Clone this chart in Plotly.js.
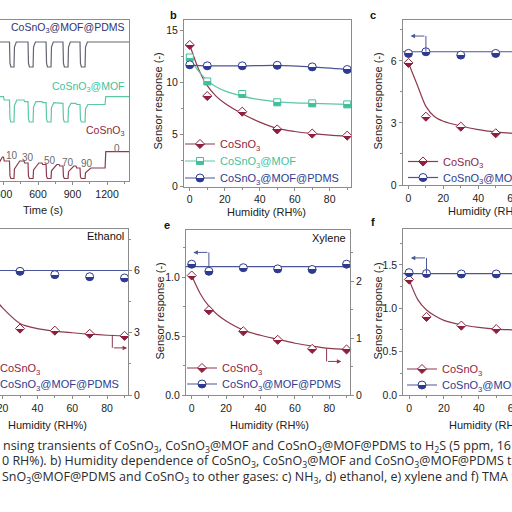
<!DOCTYPE html>
<html><head><meta charset="utf-8">
<script src="https://cdn.plot.ly/plotly-3.0.1.min.js"></script>
<style>
html,body{margin:0;padding:0;width:512px;height:512px;overflow:hidden;background:#fff}
#chart{position:absolute;left:-60px;top:0;width:660px;height:512px}
</style></head>
<body><div id="chart"></div>
<script>
// ---------- data ----------
const humidity = [0, 10, 30, 50, 70, 90];
const fitRH = [0, 5, 10, 15, 20, 30, 40, 50, 60, 70, 80, 90];
const flatRH = [-5, 95];

// b) H2S
const bCo = [13.6, 8.7, 7.2, 5.5, 5.1, 4.9];
const bCoFit = [13.6, 11.3, 9.7, 8.7, 8.0, 7.0, 6.2, 5.6, 5.3, 5.1, 4.95, 4.85];
const bMof = [12.4, 10.1, 8.9, 8.1, 8.0, 7.9];
const bMofFit = [12.3, 11.1, 10.2, 9.6, 9.2, 8.7, 8.35, 8.15, 8.05, 8.0, 7.95, 7.9];
const bPdms = [11.7, 11.6, 11.6, 11.65, 11.5, 11.25];
// c) NH3
const cCo = [5.9, 3.3, 2.82, 2.5, 2.45, 2.4];
const cCoFit = [5.9, 4.85, 3.8, 3.3, 3.08, 2.85, 2.68, 2.57, 2.5, 2.46, 2.43, 2.41];
const cPdms = [6.36, 6.44, 6.28, 6.36, 6.4, 6.4];
const cPdmsFlat = [6.44, 6.44];
// d) ethanol
const dCo = [7.5, 4.8, 3.2, 3.1, 2.95, 2.85];
const dCoFit = [7.6, 6.3, 5.3, 4.7, 4.2, 3.45, 3.2, 3.08, 3.0, 2.93, 2.88, 2.85];
const dPdms = [6.0, 6.0, 5.96, 5.8, 5.7, 5.64];
const dPdmsFlat = [6.0, 6.0];
// e) xylene
const eCo = [2.1, 1.49, 1.12, 0.97, 0.81, 0.8];
const eCoFit = [2.1, 1.78, 1.56, 1.41, 1.3, 1.14, 1.05, 0.98, 0.91, 0.86, 0.82, 0.8];
const ePdms = [1.11, 1.05, 1.08, 1.07, 1.065, 1.11];
const ePdmsFlat = [1.09, 1.09];
// f) TMA
const fCo = [1.33, 0.9, 0.8, 0.76, 0.74, 0.73];
const fCoFit = [1.33, 1.1, 0.98, 0.91, 0.86, 0.81, 0.78, 0.76, 0.75, 0.74, 0.735, 0.73];
const fPdms = [1.41, 1.40, 1.395, 1.395, 1.39, 1.39];
const fPdmsFlat = [1.40, 1.40];

// a) transients (time in s, arbitrary response units)
const aRhTimes = [0, 300, 478, 635, 783, 930, 1183];
const aRhSteps = [0, 10, 30, 50, 70, 90, 0];
const aGasOn = [40, 195, 352, 513, 670, 817, 965];
const aGasOff = [85, 240, 391, 557, 713, 861, 1009];
const aStart = -61, aEnd = 1391;
const aPdmsBase = [139, 139, 139, 139, 139, 139, 139];
const aPdmsDip = 114;
const aMofBase = [84.3, 81, 79.3, 78.3, 77.7, 76.5, 84.3];
const aMofDip = 59;
const aCoBase = [24, 20, 18, 16.5, 15, 13, 29.3];
const aCoDip = 2.5;
const aRhLabels = ['10', '30', '50', '70', '90', '0'];
const aRhLabelT = [371, 513, 704, 861, 1026, 1287];
const aRhLabelV = [26, 24, 21, 19, 18, 33];

// ---------- helpers ----------
const W = 660, H = 512, OX = 60;
const px = x => (x + OX) / W;
const py = y => 1 - y / H;
const LC = '#8c8c8c';
const FONT = '"Liberation Sans", Arial, sans-serif';
const maroon = '#8e1f3f', maroonLine = '#8c3a4c';
const teal = '#45bf9b', tealLine = '#5cc7a7';
const navy = '#2f3b8f', navyLine = '#4a5697';
const grayTrace = '#646472';

function buildTransient(base, dip, jump, settle) {
  const t = [aStart], v = [base[0]];
  let level = base[0];
  const events = [];
  for (let i = 1; i < aRhTimes.length; i++) events.push({t: aRhTimes[i], rh: i});
  for (let i = 0; i < aGasOn.length; i++) events.push({t: aGasOn[i], off: aGasOff[i]});
  events.sort((p, q) => p.t - q.t);
  for (const e of events) {
    if (e.rh !== undefined) {
      t.push(e.t); v.push(level);
      level = base[e.rh];
      t.push(e.t + 6); v.push(level);
    } else {
      t.push(e.t); v.push(level);
      t.push(e.t + 4); v.push(dip + (level - dip) * 0.15);
      t.push(e.t + 12); v.push(dip);
      t.push(e.off); v.push(dip);
      t.push(e.off + 4); v.push(dip + (level - dip) * jump);
      t.push(e.off + settle); v.push(level);
    }
  }
  t.push(aEnd); v.push(level);
  return {t, v};
}

const mk = (sym, col, size) => ({symbol: sym, size: size, color: '#ffffff',
  line: {color: col, width: 1}, gradient: {type: 'vertical', color: col}});
const mCo = mk('diamond', maroon, 7);
const mMof = mk('square', teal, 7);
const mPdms = mk('circle', navy, 8);

const nameCo = '<span style="color:' + maroon + '">CoSnO<sub>3</sub></span>';
const nameMof = '<span style="color:' + teal + '">CoSnO<sub>3</sub>@MOF</span>';
const namePdms = '<span style="color:' + navy + '">CoSnO<sub>3</sub>@MOF@PDMS</span>';

const traces = [];
function line(x, y, xa, ya, color, shape) {
  traces.push({x, y, xaxis: xa, yaxis: ya, mode: 'lines', line: {color, width: 1.2, shape: shape || 'spline', smoothing: 0.8}, showlegend: false, hoverinfo: 'skip'});
}
function pts(x, y, xa, ya, marker) {
  traces.push({x, y, xaxis: xa, yaxis: ya, mode: 'markers', marker, cliponaxis: false, showlegend: false});
}
// one legend box per entry, so each entry sits where the reference shows it
const legendBoxes = {};
let legendCount = 0;
function leg(name, marker, color, xLeft, yMid) {
  legendCount++;
  const id = legendCount === 1 ? 'legend' : 'legend' + legendCount;
  legendBoxes[id] = {x: px(xLeft), y: py(yMid), xanchor: 'left', yanchor: 'middle', bgcolor: 'rgba(0,0,0,0)',
    font: {family: FONT, size: 11}, itemwidth: 30, tracegroupgap: 0};
  traces.push({x: [null], y: [null], xaxis: 'x', yaxis: 'y', mode: 'lines+markers', name, marker, line: {color, width: 1.2}, legend: id, showlegend: true});
}

// a
const aP = buildTransient(aPdmsBase, aPdmsDip, 0.8, 20);
const aM = buildTransient(aMofBase, aMofDip, 0.75, 25);
const aC = buildTransient(aCoBase, aCoDip, 0.55, 50);
line(aP.t, aP.v, 'x', 'y', grayTrace, 'linear');
line(aM.t, aM.v, 'x', 'y', tealLine, 'linear');
line(aC.t, aC.v, 'x', 'y', maroonLine, 'linear');

// b
line(fitRH, bCoFit, 'x2', 'y2', maroonLine);
line(fitRH, bMofFit, 'x2', 'y2', tealLine);
line(humidity, bPdms, 'x2', 'y2', navyLine);
pts(humidity, bCo, 'x2', 'y2', mCo);
pts(humidity, bMof, 'x2', 'y2', mMof);
pts(humidity, bPdms, 'x2', 'y2', mPdms);
leg(nameCo, mCo, maroonLine, 180, 144);
leg(nameMof, mMof, tealLine, 180, 161);
leg(namePdms, mPdms, navyLine, 180, 178);

// c
line(fitRH, cCoFit, 'x3', 'y3', maroonLine);
line(flatRH, cPdmsFlat, 'x3', 'y3', navyLine, 'linear');
pts(humidity, cCo, 'x3', 'y3', mCo);
pts(humidity, cPdms, 'x3', 'y3', mPdms);
leg(nameCo, mCo, maroonLine, 403, 161.5);
leg(namePdms, mPdms, navyLine, 403, 177.5);

// d
line(flatRH, dPdmsFlat, 'x4', 'y4', navyLine, 'linear');
pts(humidity, dPdms, 'x4', 'y4', mPdms);
line(fitRH, dCoFit, 'x4', 'y7', maroonLine);
pts(humidity, dCo, 'x4', 'y7', mCo);
leg(nameCo, mCo, maroonLine, -40, 368);
leg(namePdms, mPdms, navyLine, -40, 384);

// e
line(flatRH, ePdmsFlat, 'x5', 'y5', navyLine, 'linear');
pts(humidity, ePdms, 'x5', 'y5', mPdms);
line(fitRH, eCoFit, 'x5', 'y8', maroonLine);
pts(humidity, eCo, 'x5', 'y8', mCo);
leg(nameCo, mCo, maroonLine, 182, 368);
leg(namePdms, mPdms, navyLine, 182, 384);

// f
line(fitRH, fCoFit, 'x6', 'y6', maroonLine);
line(flatRH, fPdmsFlat, 'x6', 'y6', navyLine, 'linear');
pts(humidity, fCo, 'x6', 'y6', mCo);
pts(humidity, fPdms, 'x6', 'y6', mPdms);
leg(nameCo, mCo, maroonLine, 402, 369);
leg(namePdms, mPdms, navyLine, 402, 385);

// ---------- layout ----------
const tf = {family: FONT, size: 10.5, color: '#222'};
const minorTicks = d => ({dtick: d, ticks: 'outside', ticklen: 2, tickcolor: LC, showgrid: false});
function ax(extra) {
  return Object.assign({showline: true, linecolor: LC, linewidth: 1, mirror: true, ticks: 'outside',
    ticklen: 3, tickwidth: 1, tickcolor: LC, tickfont: tf, showgrid: false, zeroline: false, fixedrange: true}, extra);
}
const RHrange = [-3.3, 92];

const layout = Object.assign({
  width: W, height: H, margin: {l: 0, r: 0, t: 0, b: 0},
  paper_bgcolor: '#fff', plot_bgcolor: 'rgba(0,0,0,0)',
  font: {family: FONT, size: 11, color: '#222'},
  xaxis: ax({domain: [px(-38), px(129)], range: [aStart, aEnd], dtick: 300, tick0: 0, minor: minorTicks(150), anchor: 'y'}),
  yaxis: ax({domain: [py(181), py(20)], range: [0, 161], showticklabels: false, ticks: '', anchor: 'x'}),
  xaxis2: ax({domain: [px(184), px(350.7)], range: RHrange, dtick: 20, tick0: 0, minor: minorTicks(10), anchor: 'y2'}),
  yaxis2: ax({domain: [py(186.7), py(20)], range: [0, 16], dtick: 5, minor: minorTicks(2.5), anchor: 'x2'}),
  xaxis3: ax({domain: [px(402.7), px(569)], range: RHrange, dtick: 20, tick0: 0, minor: minorTicks(10), anchor: 'y3'}),
  yaxis3: ax({domain: [py(185), py(19.5)], range: [0, 8], dtick: 3, minor: minorTicks(1.5), anchor: 'x3'}),
  xaxis4: ax({domain: [px(-38), px(128)], range: RHrange, dtick: 20, tick0: 0, minor: minorTicks(10), anchor: 'y4'}),
  yaxis4: ax({domain: [py(395), py(229)], range: [0, 8], showticklabels: false, ticks: '', mirror: false, anchor: 'x4'}),
  yaxis7: ax({overlaying: 'y4', side: 'right', anchor: 'x4', range: [0, 8], dtick: 3, minor: minorTicks(1.5), mirror: false}),
  xaxis5: ax({domain: [px(186), px(350)], range: RHrange, dtick: 20, tick0: 0, minor: minorTicks(10), anchor: 'y5'}),
  yaxis5: ax({domain: [py(395), py(230)], range: [0, 1.4], dtick: 0.5, tickformat: '.1f', minor: minorTicks(0.25), mirror: false, anchor: 'x5'}),
  yaxis8: ax({overlaying: 'y5', side: 'right', anchor: 'x5', range: [0, 2.9], dtick: 1, minor: minorTicks(0.5), mirror: false}),
  xaxis6: ax({domain: [px(403.3), px(569.5)], range: RHrange, dtick: 20, tick0: 0, minor: minorTicks(10), anchor: 'y6'}),
  yaxis6: ax({domain: [py(395), py(229.3)], range: [0, 1.91], dtick: 0.5, tickformat: '.1f', minor: minorTicks(0.25), anchor: 'x6'}),
  shapes: [
    {type: 'line', xref: 'x3', yref: 'y3', x0: 10, x1: 10, y0: 6.44, y1: 7.2, line: {color: navyLine, width: 1}},
    {type: 'line', xref: 'x5', yref: 'y5', x0: 10, x1: 10, y0: 1.09, y1: 1.21, line: {color: navyLine, width: 1}},
    {type: 'line', xref: 'x6', yref: 'y6', x0: 10, x1: 10, y0: 1.40, y1: 1.58, line: {color: navyLine, width: 1}},
    {type: 'line', xref: 'x4', yref: 'y7', x0: 83, x1: 83, y0: 2.9, y1: 2.27, line: {color: maroonLine, width: 1}},
    {type: 'line', xref: 'x5', yref: 'y8', x0: 78.4, x1: 78.4, y0: 0.82, y1: 0.59, line: {color: maroonLine, width: 1}}
  ],
  annotations: []
}, legendBoxes);

const ann = layout.annotations;
const arrow = (xr, yr, x, y, axv, col) => ann.push({xref: xr, yref: yr, axref: xr, ayref: yr, x, y, ax: axv, ay: y, text: '', showarrow: true, arrowhead: 2, arrowsize: 0.9, arrowwidth: 1, arrowcolor: col});
arrow('x3', 'y3', 1.2, 7.2, 10, navyLine);
arrow('x5', 'y5', 1.0, 1.21, 10, navyLine);
arrow('x6', 'y6', 1.0, 1.58, 10, navyLine);
arrow('x4', 'y7', 91.5, 2.27, 83, maroonLine);
arrow('x5', 'y8', 87, 0.59, 78.4, maroonLine);

const txt = (text, x, y, opts) => ann.push(Object.assign({text, xref: 'paper', yref: 'paper', x: px(x), y: py(y), showarrow: false, xanchor: 'center', yanchor: 'middle', font: {family: FONT, size: 11, color: '#111'}}, opts || {}));
// panel letters
txt('<b>b</b>', 173, 15);
txt('<b>c</b>', 373.3, 15);
txt('<b>e</b>', 167.3, 225);
txt('<b>f</b>', 372.7, 222);
// axis titles
const titleFont = {family: FONT, size: 11, color: '#222'};
txt('Time (s)', 43, 210, {font: titleFont});
txt('Humidity (RH%)', 266, 212, {font: titleFont});
txt('Humidity (RH%)', 487, 211, {font: titleFont});
txt('Humidity (RH%)', 47, 425, {font: titleFont});
txt('Humidity (RH%)', 269, 425, {font: titleFont});
txt('Humidity (RH%)', 488.5, 425, {font: titleFont});
txt('Sensor response (-)', 157.5, 101, {font: titleFont, textangle: -90});
txt('Sensor response (-)', 377.5, 101, {font: titleFont, textangle: -90});
txt('Sensor response (-)', 159.5, 311, {font: titleFont, textangle: -90});
txt('Sensor response (-)', 377.5, 311, {font: titleFont, textangle: -90});
// panel a series labels
txt('CoSnO<sub>3</sub>@MOF@PDMS', 127, 28, {xanchor: 'right', font: {family: FONT, size: 10.5, color: '#2e3470'}});
txt('CoSnO<sub>3</sub>@MOF', 127, 87, {xanchor: 'right', font: {family: FONT, size: 10.5, color: teal}});
txt('CoSnO<sub>3</sub>', 127, 131, {xanchor: 'right', font: {family: FONT, size: 10.5, color: maroon}});
txt('Ethanol', 126, 236, {xanchor: 'right'});
txt('Xylene', 348, 238, {xanchor: 'right'});
aRhLabels.forEach((s, i) => ann.push({text: s, xref: 'x', yref: 'y', x: aRhLabelT[i], y: aRhLabelV[i], showarrow: false, font: {family: FONT, size: 10, color: '#6a6a6a'}}));

// caption (cropped in the reference)
const capFont = {family: '"Open Sans", sans-serif', size: 12.5, color: '#2a2a2a'};
txt('nsing transients of CoSnO<sub>3</sub>, CoSnO<sub>3</sub>@MOF and CoSnO<sub>3</sub>@MOF@PDMS to H<sub>2</sub>S (5 ppm, 16', 1, 446.5, {xanchor: 'left', font: capFont});
txt('0 RH%). b) Humidity dependence of CoSnO<sub>3</sub>, CoSnO<sub>3</sub>@MOF and CoSnO<sub>3</sub>@MOF@PDMS to', 0, 461.5, {xanchor: 'left', font: capFont});
txt('SnO<sub>3</sub>@MOF@PDMS and CoSnO<sub>3</sub> to other gases: c) NH<sub>3</sub>, d) ethanol, e) xylene and f) TMA', 0, 477, {xanchor: 'left', font: capFont});

Plotly.newPlot('chart', traces, layout, {staticPlot: true, displayModeBar: false}).then(gd => {
  gd.querySelectorAll('linearGradient').forEach(g => g.querySelectorAll('stop').forEach(s => s.setAttribute('offset', '50%')));
});
</script>
</body></html>
